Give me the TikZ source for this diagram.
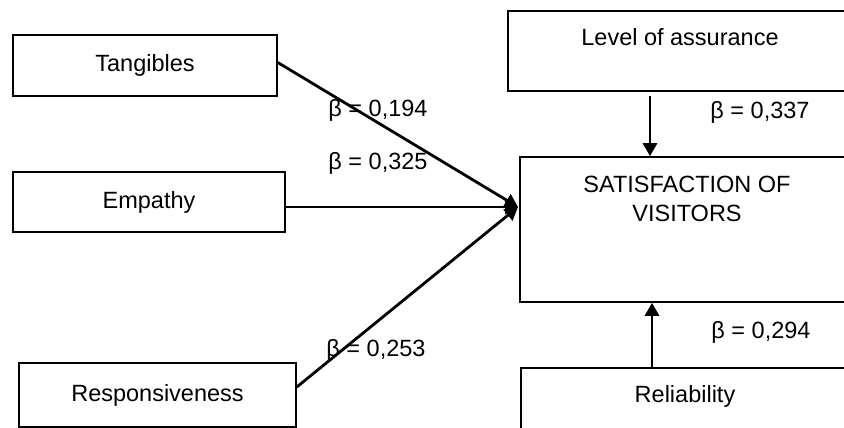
\documentclass[tikz,border=0pt]{standalone}
\usepackage{fontspec}
\setmainfont{Liberation Sans}
\usetikzlibrary{arrows.meta,positioning}
\definecolor{inkdark}{HTML}{000000}
\tikzset{
  factor/.style={draw=inkdark, line width=1.6pt, fill=white, inner sep=6pt,
    font=\fontsize{23.5}{29}\selectfont, text=inkdark, align=center},
  flow/.style={-{Triangle[length=13pt,width=14pt]}, line width=2.8pt, color=inkdark},
  coef/.style={font=\fontsize{23.5}{27}\selectfont, text=inkdark, inner sep=0pt},
}
\begin{document}
\begin{tikzpicture}[x=1pt,y=-1pt]
  \clip (0,0) rectangle (844,428);
  % predictors
  \node[factor, minimum width=264pt, minimum height=61pt] (tang) at (145,65.5) {Tangibles};
  \node[factor, minimum width=272pt, minimum height=60pt] (emp) at (149,202) {Empathy};
  \node[factor, minimum width=277pt, minimum height=64pt] (resp) at (157.5,395) {Responsiveness};
  % right column
  \node[factor, minimum width=344pt, minimum height=80pt, text depth=28pt] (assur) at (680,51) {Level of assurance};
  \node[factor, minimum width=334pt, minimum height=145pt, text depth=62pt] (sat) at (687,229.5) {SATISFACTION OF\\VISITORS};
  \node[factor, minimum width=328pt, minimum height=80pt, text depth=28pt] (rel) at (685,408) {Reliability};
  \coordinate (hub) at (518,207);
  % paths
  \draw[flow] ([yshift=3pt]tang.east) -- (hub);
  \draw[flow] (emp.east |- hub) -- (hub);
  \draw[flow] ([yshift=8pt]resp.east) -- (hub);
  \draw[flow] ([xshift=-30pt,yshift=-4pt]assur.south) -- ([xshift=-30pt]assur.south |- sat.north);
  \draw[flow] ([xshift=-33pt]rel.north) -- ([xshift=-33pt]rel.north |- sat.south);
  % coefficients
  \node[coef] (b194) at (378,110) {β = 0,194};
  \node[coef] (b325) at (378,163) {β = 0,325};
  \node[coef] (b253) at (376,350) {β = 0,253};
  \node[coef] (b337) at (760,112) {β = 0,337};
  \node[coef] (b294) at (761,332) {β = 0,294};
\end{tikzpicture}
\end{document}
